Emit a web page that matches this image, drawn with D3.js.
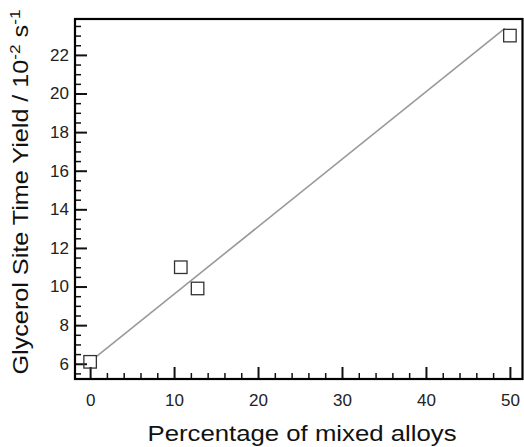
<!DOCTYPE html>
<html>
<head>
<meta charset="utf-8">
<script src="https://cdn.jsdelivr.net/npm/d3@7"></script>
<style>
  body { margin: 0; background: #fff; }
  svg { display: block; font-family: Helvetica, Arial, "Liberation Sans", sans-serif; }
</style>
</head>
<body>
<div id="chart"></div>
<script>
// data
const alloyPct = [0, 10.8, 12.8, 50];
const yieldSTY = [6.1, 11.0, 9.9, 23.0];
// fitted line, endpoints as drawn
const fitX = [0.7, 49.4];
const fitY = [6.35, 23.38];

const xMajor = [0, 10, 20, 30, 40, 50];
const yMajor = [6, 8, 10, 12, 14, 16, 18, 20, 22];

const width = 524, height = 447;
const margin = { top: 19, right: 1.5, bottom: 68, left: 75 };
const font = "Helvetica, Arial, 'Liberation Sans', sans-serif";

const svg = d3.select("#chart").append("svg")
    .attr("width", width)
    .attr("height", height);

const x = d3.scaleLinear()
    .domain([-1.8, 51.5])
    .range([margin.left, width - margin.right]);
const y = d3.scaleLinear()
    .domain([5.21, 23.86])
    .range([height - margin.bottom, margin.top]);

const xMinor = d3.range(0, 51, 2).filter(v => v % 10 !== 0);
const yMinor = d3.range(5.5, 23.9, 0.5).filter(v => !(v % 2 === 0 && v >= 6 && v <= 22));

// minor ticks
svg.append("g")
    .attr("transform", `translate(0,${height - margin.bottom})`)
    .call(d3.axisBottom(x).tickValues(xMinor).tickSize(-6).tickFormat(""))
    .call(g => g.select(".domain").remove())
    .call(g => g.selectAll("line").attr("stroke", "#111").attr("stroke-width", 1.5));
svg.append("g")
    .attr("transform", `translate(${margin.left},0)`)
    .call(d3.axisLeft(y).tickValues(yMinor).tickSize(-6).tickFormat(""))
    .call(g => g.select(".domain").remove())
    .call(g => g.selectAll("line").attr("stroke", "#111").attr("stroke-width", 1.5));

// major ticks + labels
svg.append("g")
    .attr("transform", `translate(0,${height - margin.bottom})`)
    .call(d3.axisBottom(x).tickValues(xMajor).tickSize(-12).tickPadding(15))
    .call(g => g.select(".domain").remove())
    .call(g => g.selectAll("line").attr("stroke", "#111").attr("stroke-width", 2))
    .call(g => g.selectAll("text").attr("fill", "#222").attr("font-size", 17)
        .attr("font-family", font));
svg.append("g")
    .attr("transform", `translate(${margin.left},0)`)
    .call(d3.axisLeft(y).tickValues(yMajor).tickSize(-12).tickPadding(6))
    .call(g => g.select(".domain").remove())
    .call(g => g.selectAll("line").attr("stroke", "#111").attr("stroke-width", 2))
    .call(g => g.selectAll("text").attr("fill", "#222").attr("font-size", 17)
        .attr("font-family", font));

// frame
svg.append("rect")
    .attr("x", margin.left)
    .attr("y", margin.top)
    .attr("width", width - margin.left - margin.right)
    .attr("height", height - margin.top - margin.bottom)
    .attr("fill", "none")
    .attr("stroke", "#000")
    .attr("stroke-width", 2.2);

// fit line
const line = d3.line().x(d => x(d[0])).y(d => y(d[1]));
svg.append("path")
    .datum(d3.zip(fitX, fitY))
    .attr("d", line)
    .attr("fill", "none")
    .attr("stroke", "#999")
    .attr("stroke-width", 1.6);

// data squares
const sq = 12.5;
svg.selectAll(".pt")
    .data(d3.zip(alloyPct, yieldSTY))
    .enter().append("rect")
    .attr("class", "pt")
    .attr("x", d => x(d[0]) - sq / 2)
    .attr("y", d => y(d[1]) - sq / 2)
    .attr("width", sq)
    .attr("height", sq)
    .attr("fill", "none")
    .attr("stroke", "#333")
    .attr("stroke-width", 1.3);

// axis titles
svg.append("text")
    .attr("x", 302)
    .attr("y", 441)
    .attr("text-anchor", "middle")
    .attr("font-size", 22)
    .attr("textLength", 309)
    .attr("lengthAdjust", "spacingAndGlyphs")
    .attr("fill", "#111")
    .text("Percentage of mixed alloys");

const yt = svg.append("text")
    .attr("transform", "translate(28,192) rotate(-90)")
    .attr("text-anchor", "middle")
    .attr("font-size", 22)
    .attr("textLength", 365)
    .attr("lengthAdjust", "spacingAndGlyphs")
    .attr("fill", "#111");
yt.append("tspan").text("Glycerol Site Time Yield / 10");
yt.append("tspan").attr("dy", -8).attr("font-size", 15).text("-2");
yt.append("tspan").attr("dy", 8).text(" s");
yt.append("tspan").attr("dy", -8).attr("font-size", 15).text("-1");
</script>
</body>
</html>
